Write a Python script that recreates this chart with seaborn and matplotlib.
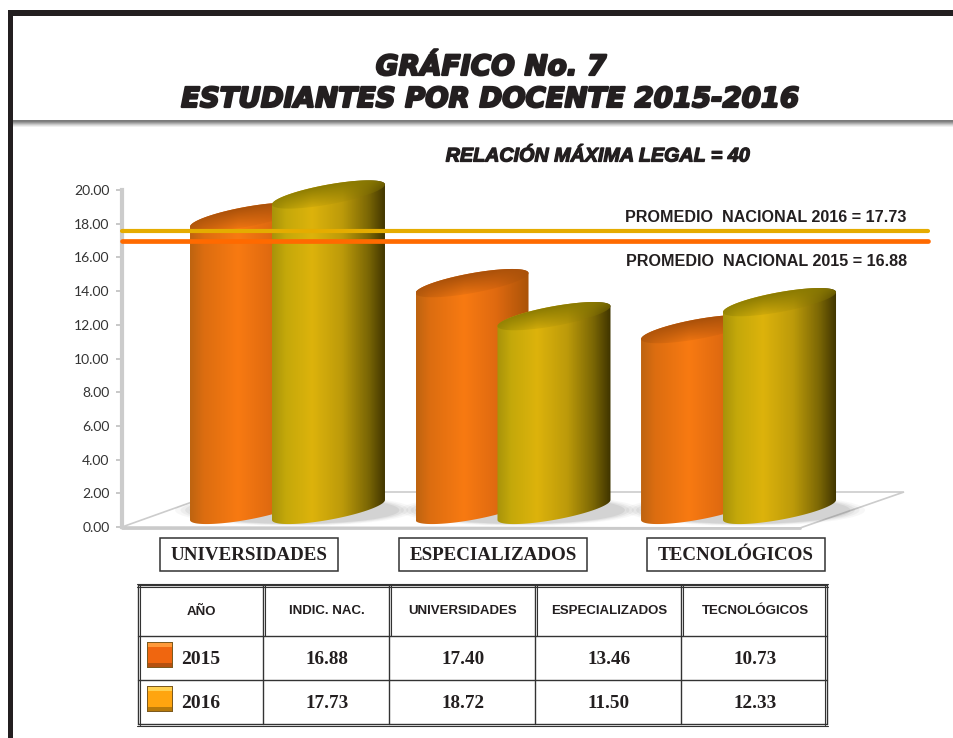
import numpy as np
import pandas as pd
import matplotlib
matplotlib.use("Agg")
import matplotlib.pyplot as plt
import matplotlib.patheffects as pe
from matplotlib.colors import LinearSegmentedColormap, to_rgb
from matplotlib.path import Path
from matplotlib.patches import Polygon, Rectangle, Ellipse, PathPatch
import seaborn as sns

years = ["2015", "2016"]
categories = ["UNIVERSIDADES", "ESPECIALIZADOS", "TECNOLÓGICOS"]
national = [16.88, 17.73]
universidades = [17.40, 18.72]
especializados = [13.46, 11.50]
tecnologicos = [10.73, 12.33]
table_header = ["AÑO", "INDIC. NAC.", "UNIVERSIDADES", "ESPECIALIZADOS", "TECNOLÓGICOS"]
y_ticks = [0, 2, 4, 6, 8, 10, 12, 14, 16, 18, 20]
# reference lines as they sit on the picture's axis
line_2015 = 16.97
line_2016 = 17.57

INK = "#231F20"
sns.set_theme(style="white")
plt.rcParams["font.family"] = ["Liberation Sans", "DejaVu Sans"]

fig = plt.figure(figsize=(9.54, 7.38), dpi=100, facecolor="white")

# page layer in pixel units
bg = fig.add_axes([0, 0, 1, 1])
bg.set_xlim(0, 954)
bg.set_ylim(738, 0)
bg.axis("off")

# frame
bg.add_patch(Rectangle((8, 10), 946, 5.5, fc=INK, ec="none"))
bg.add_patch(Rectangle((8, 10), 5, 728, fc=INK, ec="none"))
# rule below title
for i, c in enumerate(["#7a7a7a", "#808080", "#969696", "#aeaeae", "#c8c8c8", "#dedede", "#f0f0f0"]):
    bg.add_patch(Rectangle((13, 120 + i), 941, 1.05, fc=c, ec="none"))

stroke = lambda w, c=INK: [pe.withStroke(linewidth=w, foreground=c)]
bg.text(491, 67, "GRÁFICO No. 7", ha="center", va="center", fontsize=20, color=INK,
        family="DejaVu Sans", weight="bold", style="oblique", path_effects=stroke(1.6))
bg.text(490, 99, "ESTUDIANTES POR DOCENTE 2015-2016", ha="center", va="center", fontsize=19.8, color=INK,
        family="DejaVu Sans", weight="bold", style="oblique", path_effects=stroke(1.6))
bg.text(598, 156, "RELACIÓN MÁXIMA LEGAL = 40", ha="center", va="center", fontsize=14.2, color=INK,
        weight="bold", style="italic", path_effects=stroke(0.9))

# floor
floor = [(122, 527), (220, 492), (904, 492), (800, 528)]
bg.add_patch(Polygon(floor, closed=True, fc="white", ec="#cccccc", lw=1.2, zorder=1))
bg.plot([122, 800], [527.5, 527.5], color="#cacaca", lw=2.0, zorder=2)

# chart layer
left, right, top, bottom = 122, 905, 190, 527
ax = fig.add_axes([left / 954, 1 - bottom / 738, (right - left) / 954, (bottom - top) / 738])
ax.patch.set_alpha(0)

df = pd.DataFrame({
    "categoria": categories * 2,
    "anio": [years[0]] * 3 + [years[1]] * 3,
    "valor": [universidades[0], especializados[0], tecnologicos[0],
              universidades[1], especializados[1], tecnologicos[1]],
})
sns.barplot(data=df, x="categoria", y="valor", hue="anio", hue_order=years, order=categories,
            palette=["#F57812", "#DCB20C"], width=0.727, gap=0, dodge=True, legend=False,
            saturation=1, ax=ax)

XMIN, XMAX = -0.665, 2.807
ax.set_xlim(XMIN, XMAX)
ax.set_ylim(0, 20)
ax.set_xlabel("")
ax.set_ylabel("")
ax.set_xticks([])
ax.set_yticks(y_ticks)
ax.set_yticklabels([f"{v:.2f}" for v in y_ticks], fontsize=10, family="Lato", color="#333333")
ax.tick_params(axis="y", left=True, length=4, width=1.4, color="#c8c8c8", pad=5)
for s in ["top", "right", "bottom"]:
    ax.spines[s].set_visible(False)
ax.spines["left"].set_color("#cccccc")
ax.spines["left"].set_linewidth(3.0)

CYL_W = 113 / 225.5
RISE = 20 / 16.85
MINOR = 10 / 16.85
BASE = 0.42

orange_body = LinearSegmentedColormap.from_list("ob", [(0, "#BE6410"), (0.12, "#DC6D10"), (0.42, "#F87A12"),
                                                      (0.7, "#E06A10"), (1, "#A85208")])
yellow_body = LinearSegmentedColormap.from_list("yb", [(0, "#A8930A"), (0.12, "#C4A80A"), (0.35, "#DDB30C"),
                                                      (0.62, "#BC9A0A"), (0.85, "#7A6605"), (1, "#3F3400")])
DARK = {False: to_rgb("#A8500A"), True: to_rgb("#8A7A02")}


def arc(x0, y0, t0, t1, n=60):
    t = np.linspace(t0, t1, n)
    cx, cy = x0 + CYL_W / 2, y0 + RISE / 2
    return np.column_stack([cx + CYL_W / 2 * np.cos(t), cy + RISE / 2 * np.cos(t) + MINOR * np.sin(t)])


def place(im, path):
    im.set_clip_path(PathPatch(path, transform=ax.transData))
    im.set_clip_box(fig.bbox)


def body_image(path, cmap, x0, z):
    g = np.linspace(0, 1, 200)[None, :]
    im = ax.imshow(g, cmap=cmap, extent=(x0, x0 + CYL_W, -1, 24), aspect="auto", origin="lower",
                   zorder=z, vmin=0, vmax=1)
    place(im, path)


def cap_image(path, cmap, dark, x0, y_top, z):
    # horizontal body tint, darkening from the front rim towards the back rim
    nx, ny = 200, 120
    xs_ = np.linspace(-1, 1, nx)
    y_lo, y_hi = y_top - MINOR - 0.1, y_top + RISE + MINOR + 0.1
    ys_ = np.linspace(y_lo, y_hi, ny)
    X, Y = np.meshgrid(xs_, ys_)
    cy = y_top + RISE / 2 + RISE / 2 * X
    v = np.clip((Y - cy) / (MINOR * 2) + 0.5, 0, 1)
    f = 0.15 + 0.85 * v
    base = cmap(np.clip((X + 1) / 2, 0, 1))[..., :3]
    rgb = base * (1 - f[..., None]) + np.array(dark) * f[..., None]
    im = ax.imshow(rgb, extent=(x0, x0 + CYL_W, y_lo, y_hi), aspect="auto", origin="lower", zorder=z)
    place(im, path)


# soft shadows on the floor around each group
for k in range(len(categories)):
    cx = k + 0.10
    for w, a in [(1.06, 0.05), (1.01, 0.07), (0.97, 0.09), (0.93, 0.12)]:
        ax.add_patch(Ellipse((cx, 1.0), w, 1.75 * w, angle=0, fc="#707070", ec="none", alpha=a, zorder=1.5))

bars = [b for b in ax.patches if isinstance(b, Rectangle) and b.get_height() > 0][:6]
for i, bar in enumerate(bars):
    is_2016 = i >= 3
    x0 = bar.get_x()
    h = bar.get_height()
    bar.set_alpha(0)
    z = 3 + i + (10 if is_2016 else 0)
    y_top, y_base = h + BASE, BASE
    lower = arc(x0, y_base, np.pi, 2 * np.pi)
    upper = arc(x0, y_top, 0, np.pi)
    verts = np.vstack([lower, upper, lower[:1]])
    codes = [Path.MOVETO] + [Path.LINETO] * (len(verts) - 2) + [Path.CLOSEPOLY]
    cmap = yellow_body if is_2016 else orange_body
    body_image(Path(verts, codes), cmap, x0, z)
    cap = arc(x0, y_top, 0, 2 * np.pi, 100)
    cap_image(Path(cap, closed=False), cmap, DARK[is_2016], x0, y_top, z + 0.1)

ax.set_xlim(XMIN, XMAX)
ax.set_ylim(0, 20)

# national average lines
x_line = [XMIN, XMIN + (928 - 122) / 225.5]
ax.plot(x_line, [line_2016, line_2016], color="#E5AC00", lw=3.0, solid_capstyle="round", zorder=40, clip_on=False)
ax.plot(x_line, [line_2015, line_2015], color="#FF6A00", lw=3.4, solid_capstyle="round", zorder=41, clip_on=False)

ax.text(XMIN + (765.5 - 122) / 225.5, (527 - 217) / 16.85, f"PROMEDIO  NACIONAL {years[1]} = {national[1]:.2f}",
        ha="center", va="center", fontsize=11.6, weight="bold", color=INK, zorder=50)
ax.text(XMIN + (767 - 122) / 225.5, (527 - 261) / 16.85, f"PROMEDIO  NACIONAL {years[0]} = {national[0]:.2f}",
        ha="center", va="center", fontsize=11.6, weight="bold", color=INK, zorder=50)

# category boxes
boxes = [(160, 338), (399, 587), (647, 825)]
for (a, b), name in zip(boxes, categories):
    bg.add_patch(Rectangle((a, 538), b - a, 33, fc="white", ec="#333333", lw=1.1, zorder=3))
    bg.text((a + b) / 2, 555, name, ha="center", va="center", fontsize=13.7, weight="bold",
            family="Liberation Serif", color=INK, zorder=4)

# table
xs = [138, 263, 389, 535, 681, 827]
ys = [585, 636, 680, 724]
LINE = "#333333"
for y in ys:
    bg.plot([xs[0], xs[-1]], [y, y], color=LINE, lw=1.0, zorder=3)
for y in (ys[0] - 1.5, ys[0] + 1.5, ys[-1] + 1.5):
    bg.plot([xs[0] - 1, xs[-1] + 1], [y, y], color=LINE, lw=0.8, zorder=3)
for x in xs:
    bg.plot([x, x], [ys[0], ys[-1]], color=LINE, lw=1.0, zorder=3)
for x in xs[1:-1]:
    bg.plot([x + 2, x + 2], [ys[0], ys[1]], color=LINE, lw=0.8, zorder=3)
for x in (xs[0] + 2, xs[-1] - 2):
    bg.plot([x, x], [ys[0], ys[-1] + 1], color=LINE, lw=0.8, zorder=3)

centers = [(xs[i] + xs[i + 1]) / 2 for i in range(5)]
for cx, label in zip(centers, table_header):
    bg.text(cx + 1, 611.5, label, ha="center", va="center", fontsize=9.5, weight="bold",
            color=INK, zorder=4)

row_y = [659, 703]
swatch = [("#7D5A1E", "#F0660F", "#FF9A3A", "#B5500E"), ("#7D5A1E", "#FFA50F", "#FFD050", "#B87A0A")]
for r in range(2):
    edge, mid, light, shade = swatch[r]
    sy = row_y[r] - 17
    bg.add_patch(Rectangle((147, sy), 26, 26, fc=edge, ec="none", zorder=4))
    bg.add_patch(Rectangle((148, sy + 1), 24, 24, fc=mid, ec="none", zorder=5))
    bg.add_patch(Rectangle((148, sy + 1), 24, 4, fc=light, ec="none", zorder=6))
    bg.add_patch(Rectangle((148, sy + 21), 24, 4, fc=shade, ec="none", zorder=6))
    bg.text(201, row_y[r], years[r], ha="center", va="center", fontsize=14, weight="bold",
            family="Liberation Serif", color=INK, zorder=4)
    vals = [national[r], universidades[r], especializados[r], tecnologicos[r]]
    for cx, v in zip(centers[1:], vals):
        bg.text(cx + 1, row_y[r], f"{v:.2f}", ha="center", va="center", fontsize=13.8, weight="bold",
                family="Liberation Serif", color=INK, zorder=4)

fig.savefig("out.png", dpi=100, facecolor="white")
